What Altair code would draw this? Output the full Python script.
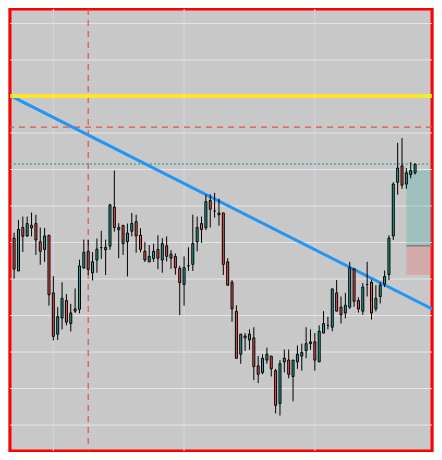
import altair as alt
import pandas as pd

# ---- candle data (price units; grid step = 10) ----
opens = [51.2, 42.2, 54.1, 51.8, 54.7, 55.2, 50.2, 48.1, 52.0, 36.2,
         24.9, 29.3, 34.1, 27.8, 31.8, 31.7, 43.0, 47.6, 41.7, 45.2,
         48.6, 48.0, 49.0, 59.7, 53.5, 54.7, 50.2, 53.1, 55.7, 52.0,
         47.6, 44.7, 45.6, 48.1, 45.2, 49.1, 45.7, 46.2, 42.9, 38.5,
         43.6, 44.0, 50.2, 55.2, 54.0, 61.5, 58.6, 58.1, 58.1, 44.7,
         39.1, 31.1, 19.4, 24.4, 23.3, 23.9, 16.2, 14.4, 17.8, 18.9,
         14.9, 5.9, 17.3, 17.8, 13.3, 17.3, 18.9, 20.4, 22.8, 22.8,
         17.3, 25.2, 27.3, 26.8, 36.2, 32.3, 30.7, 32.3, 42.8, 34.1,
         31.2, 38.5, 39.1, 31.8, 35.2, 38.6, 41.2, 51.8, 66.5, 71.0,
         66.0, 68.6, 69.1]
highs = [52.7, 56.2, 57.1, 57.1, 58.2, 57.6, 54.1, 54.0, 52.0, 40.8,
         32.3, 39.1, 35.9, 33.2, 37.4, 45.3, 50.8, 50.8, 47.4, 51.1,
         53.2, 50.8, 60.6, 69.7, 55.3, 54.7, 55.2, 58.1, 57.6, 53.9,
         50.1, 49.3, 49.7, 52.0, 51.2, 51.7, 47.9, 47.0, 43.6, 46.2,
         48.7, 57.6, 57.1, 57.1, 63.1, 63.2, 63.6, 62.0, 58.1, 45.7,
         39.7, 32.8, 24.9, 25.2, 26.2, 26.8, 18.9, 19.4, 21.2, 18.9,
         15.4, 17.8, 20.7, 20.7, 17.8, 21.8, 22.3, 26.8, 26.2, 25.2,
         27.3, 31.2, 29.7, 37.3, 39.7, 35.2, 36.2, 44.7, 42.8, 35.0,
         38.9, 44.7, 39.9, 38.3, 39.1, 42.3, 52.0, 66.5, 77.3, 78.6,
         70.4, 72.0, 71.5]
lows = [40.1, 42.2, 47.4, 51.5, 51.7, 46.6, 43.9, 44.7, 32.7, 23.2,
        23.3, 26.2, 27.3, 25.6, 30.7, 30.6, 43.0, 41.1, 39.6, 41.7,
        45.5, 41.1, 48.0, 53.0, 45.7, 46.6, 40.7, 51.7, 47.2, 47.3,
        44.7, 44.6, 44.7, 42.7, 41.7, 44.8, 42.8, 41.2, 30.1, 32.7,
        42.2, 42.2, 47.6, 49.9, 53.4, 54.1, 56.8, 54.6, 41.1, 38.3,
        28.3, 18.3, 16.8, 20.3, 20.6, 12.3, 11.5, 13.9, 16.8, 13.3,
        3.2, 2.6, 14.4, 12.8, 6.5, 15.4, 14.9, 18.3, 20.6, 14.9,
        17.3, 25.2, 26.2, 25.7, 31.2, 27.8, 29.2, 31.8, 32.4, 30.8,
        30.2, 35.2, 28.9, 31.1, 33.3, 37.8, 39.7, 50.7, 63.1, 64.7,
        64.7, 67.6, 68.6]
closes = [42.7, 53.6, 51.7, 55.2, 54.0, 50.7, 47.6, 51.8, 35.7, 24.3,
          29.7, 34.7, 28.2, 30.7, 31.2, 43.6, 47.3, 42.6, 44.7, 48.2,
          48.6, 48.7, 60.3, 54.1, 54.1, 49.7, 52.6, 55.2, 51.8, 48.1,
          45.2, 46.2, 47.6, 45.7, 49.7, 46.2, 46.8, 43.1, 39.0, 43.1,
          43.6, 49.7, 54.1, 53.6, 61.2, 59.1, 58.6, 57.6, 44.0, 38.3,
          31.8, 18.3, 24.9, 23.9, 24.9, 16.0, 13.9, 18.3, 19.4, 15.4,
          5.4, 16.8, 18.3, 13.9, 17.8, 19.4, 19.9, 22.3, 22.3, 17.8,
          25.7, 27.8, 27.3, 37.3, 31.2, 30.2, 32.8, 43.1, 33.9, 31.8,
          37.8, 38.5, 30.7, 34.7, 38.3, 40.7, 51.2, 66.0, 70.4, 65.7,
          69.1, 69.7, 71.5]

# ---- reference levels and drawings ----
grid_prices = [0, 10, 20, 30, 40, 50, 60, 70, 80, 90, 100, 110]
grid_bars = [9, 39, 69]
yellow_level = [90.1]
red_level = [81.6]
last_price = [71.5]
marker_bar = [17]
trend_x = [-5, 100]
trend_y = [92.7, 29.35]
pos_start = [90]
pos_end = [100]
target_price = [69.7]
entry_price = [49.1]
stop_price = [41.1]

X_MIN, X_MAX = -0.942, 95.88
Y_MIN, Y_MAX = -7.1, 113.95

GREEN = "#26a69a"
RED = "#ef5350"

n = len(opens)
candles = pd.DataFrame({
    "i": list(range(n)),
    "open": opens, "high": highs, "low": lows, "close": closes,
})
candles["dir"] = ["up" if c >= o else "down" for o, c in zip(opens, closes)]

xs = alt.Scale(domain=[X_MIN, X_MAX], nice=False, zero=False, padding=0)
ys = alt.Scale(domain=[Y_MIN, Y_MAX], nice=False, zero=False, padding=0)

hgrid = alt.Chart(pd.DataFrame({"p": grid_prices})).mark_rule(
    color="#e6e6e6", strokeWidth=1).encode(y=alt.Y("p:Q", scale=ys, axis=None))
vgrid = alt.Chart(pd.DataFrame({"b": grid_bars})).mark_rule(
    color="#d6d6e4", strokeWidth=1).encode(x=alt.X("b:Q", scale=xs, axis=None))

vmark = alt.Chart(pd.DataFrame({"b": marker_bar})).mark_rule(
    color="#e05252", strokeWidth=1.2, strokeDash=[6, 5]).encode(
    x=alt.X("b:Q", scale=xs, axis=None))
redline = alt.Chart(pd.DataFrame({"p": red_level})).mark_rule(
    color="#e05252", strokeWidth=1.2, strokeDash=[6, 5]).encode(
    y=alt.Y("p:Q", scale=ys, axis=None))
lastline = alt.Chart(pd.DataFrame({"p": last_price})).mark_rule(
    color="#1e9488", strokeWidth=1.2, strokeDash=[2, 2]).encode(
    y=alt.Y("p:Q", scale=ys, axis=None))

pos = pd.DataFrame({"x1": pos_start, "x2": pos_end, "t": target_price,
                    "e": entry_price, "s": stop_price})
tgt = alt.Chart(pos).mark_rect(color=GREEN, opacity=0.25, clip=True).encode(
    x=alt.X("x1:Q", scale=xs, axis=None), x2="x2:Q",
    y=alt.Y("t:Q", scale=ys, axis=None), y2="e:Q")
stp = alt.Chart(pos).mark_rect(color=RED, opacity=0.25, clip=True).encode(
    x=alt.X("x1:Q", scale=xs, axis=None), x2="x2:Q",
    y=alt.Y("e:Q", scale=ys, axis=None), y2="s:Q")
sep = alt.Chart(pos).mark_rule(color="#808080", strokeWidth=1.5, clip=True).encode(
    x=alt.X("x1:Q", scale=xs, axis=None), x2="x2:Q",
    y=alt.Y("e:Q", scale=ys, axis=None))

trend = alt.Chart(pd.DataFrame({"x": trend_x, "y": trend_y})).mark_line(
    color="#2196f3", strokeWidth=3, clip=True).encode(
    x=alt.X("x:Q", scale=xs, axis=None), y=alt.Y("y:Q", scale=ys, axis=None))

yellow = alt.Chart(pd.DataFrame({"p": yellow_level})).mark_rule(
    color="#ffe62e", strokeWidth=4).encode(y=alt.Y("p:Q", scale=ys, axis=None))

base = alt.Chart(candles)
wicks = base.mark_rule(color="black", strokeWidth=1).encode(
    x=alt.X("i:Q", scale=xs, axis=None),
    y=alt.Y("low:Q", scale=ys, axis=None), y2="high:Q")
bodies = base.mark_bar(size=2, stroke="black", strokeWidth=1, orient="vertical").encode(
    x=alt.X("i:Q", scale=xs, axis=None),
    y=alt.Y("open:Q", scale=ys, axis=None), y2="close:Q",
    color=alt.Color("dir:N", scale=alt.Scale(domain=["up", "down"], range=[GREEN, RED]),
                    legend=None))

chart = alt.layer(
    hgrid, vgrid, vmark, redline, tgt, stp, sep, lastline, trend, yellow, wicks, bodies
).properties(
    width=426, height=444, padding=0,
    autosize=alt.AutoSizeParams(type="fit", contains="padding"),
    background="#c8c8c8",
).configure_view(fill="#c8c8c8", stroke="#ff0000", strokeWidth=3)

chart.save("out.html", embed_options={"renderer": "svg", "actions": False})
